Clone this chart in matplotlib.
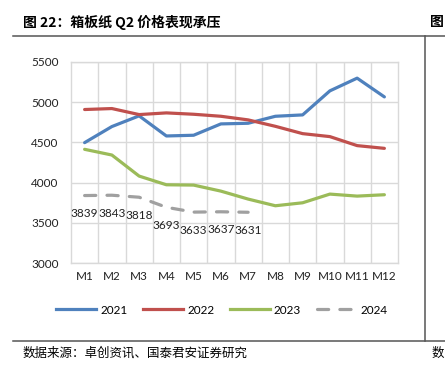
import matplotlib
matplotlib.use("Agg")
import matplotlib.pyplot as plt
from matplotlib.lines import Line2D

plt.rcParams["font.family"] = ["Lato", "Noto Sans CJK SC", "DejaVu Sans"]

months = ["M1", "M2", "M3", "M4", "M5", "M6", "M7", "M8", "M9", "M10", "M11", "M12"]
y2021 = [4497, 4697, 4830, 4580, 4589, 4730, 4738, 4825, 4842, 5141, 5299, 5066]
y2022 = [4909, 4921, 4846, 4867, 4850, 4825, 4780, 4700, 4609, 4572, 4460, 4426]
y2023 = [4414, 4343, 4081, 3973, 3969, 3894, 3795, 3712, 3749, 3857, 3832, 3849]
y2024 = [3839, 3843, 3818, 3693, 3633, 3637, 3631]

C21 = "#4F81BD"
C22 = "#C0504D"
C23 = "#9BBB59"
C24 = "#A0A0A0"
GRID = "#d9d9d9"
RULE = "#555555"

W, H = 445, 365
fig = plt.figure(figsize=(W / 100, H / 100), dpi=100)

def px(x0, y0, x1, y1):
    return [x0 / W, 1 - y1 / H, (x1 - x0) / W, (y1 - y0) / H]

ax = fig.add_axes(px(71, 62, 398, 263))
x = list(range(len(months)))
lw = 2.3
ax.plot(x, y2021, color=C21, lw=lw, solid_capstyle="round", zorder=3)
ax.plot(x, y2022, color=C22, lw=lw, solid_capstyle="round", zorder=3)
ax.plot(x, y2023, color=C23, lw=lw, solid_capstyle="round", zorder=3)
ax.plot(x[:len(y2024)], y2024, color=C24, lw=lw, dashes=(3.5, 3.5),
        dash_capstyle="round", zorder=3)
for i, v in enumerate(y2024):
    ax.annotate(str(v), (i, v), xytext=(0, -13), textcoords="offset points",
                ha="center", va="center", fontsize=8.5, color="#222222")

ax.set_xlim(-0.5, 11.5)
ax.set_ylim(3000, 5500)
ax.set_yticks(range(3000, 5501, 500))
ax.set_xticks(x)
ax.set_xticklabels(months)
ax.set_xticks([i + 0.5 for i in range(11)], minor=True)
ax.tick_params(which="both", length=0)
ax.tick_params(axis="y", pad=9, labelsize=8.5, colors="#222222")
ax.tick_params(axis="x", pad=6, labelsize=8.5, colors="#222222")
ax.grid(axis="y", which="major", color=GRID, lw=1)
ax.grid(axis="x", which="minor", color=GRID, lw=1)
ax.set_axisbelow(True)
for s in ax.spines.values():
    s.set_color(GRID)
    s.set_linewidth(1)

handles = [Line2D([], [], color=C21, lw=lw),
           Line2D([], [], color=C22, lw=lw),
           Line2D([], [], color=C23, lw=lw),
           Line2D([], [], color=C24, lw=lw, dashes=(3.5, 3.5), dash_capstyle="round")]
fig.legend(handles, ["2021", "2022", "2023", "2024"], ncol=4, frameon=False,
           loc="center", bbox_to_anchor=(222 / W, 1 - 310 / H), fontsize=8.5,
           handlelength=3.4, handletextpad=0.35, columnspacing=1.3)

# report frame: rules, title, source
fig.add_artist(Line2D([13 / W, 1], [1 - 36 / H] * 2, color=RULE, lw=1.1))
fig.add_artist(Line2D([13 / W, 1], [1 - 341 / H] * 2, color=RULE, lw=1.1))
fig.add_artist(Line2D([425 / W] * 2, [1 - 36 / H, 1 - 341 / H], color=RULE, lw=1.1))
fig.text(23 / W, 1 - 22 / H, "图 22：箱板纸 Q2 价格表现承压", fontsize=10,
         fontweight="bold", va="center", family=["Noto Sans CJK SC"])
fig.text(430 / W, 1 - 22 / H, "图", fontsize=10, fontweight="bold",
         va="center", family=["Noto Sans CJK SC"])
fig.text(23 / W, 1 - 353 / H, "数据来源：卓创资讯、国泰君安证券研究", fontsize=9,
         va="center", family=["Noto Sans CJK SC"])
fig.text(432 / W, 1 - 353 / H, "数", fontsize=9, va="center",
         family=["Noto Sans CJK SC"])

fig.savefig("out.png", dpi=100, facecolor="white")
